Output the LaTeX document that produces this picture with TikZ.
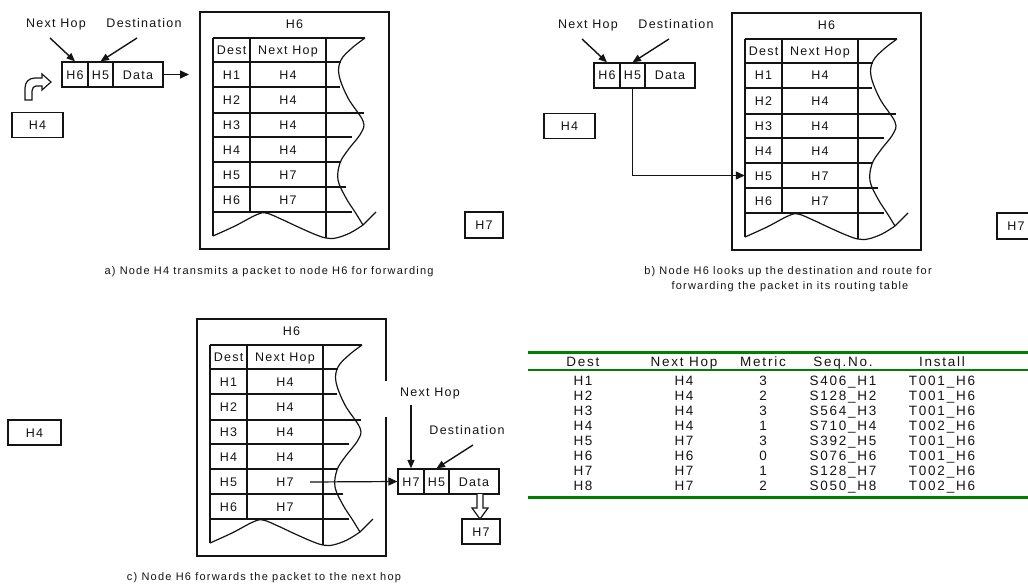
\documentclass[tikz,border=0pt]{standalone}
\usepackage{fontspec}
\setmainfont{Liberation Sans}
\newfontfamily\wfont[LetterSpace=10]{Liberation Sans}
\newfontfamily\capfont[LetterSpace=11]{Liberation Sans}
\newfontfamily\tabfont[LetterSpace=13]{Liberation Sans}
\usetikzlibrary{arrows.meta}
\definecolor{tgreen}{RGB}{0,128,0}
\definecolor{ink}{RGB}{20,20,20}
\tikzset{
  ln/.style={draw=ink, line width=1.2pt},
  txt/.style={font={\wfont\fontsize{12.5}{14}\selectfont}, text=ink, inner sep=0pt, text height=9pt, text depth=0pt},
  cell/.style={txt, minimum height=25pt},
  boxed/.style={txt, draw=ink, line width=1.2pt, minimum height=25pt},
  captxt/.style={font={\capfont\fontsize{11}{13}\selectfont}, text=ink, inner sep=0pt, text height=7.9pt, text depth=0pt},
  tabtxt/.style={font={\tabfont\fontsize{13.5}{15}\selectfont}, text=ink, inner sep=0pt, text height=9.7pt, text depth=0pt},
  ptr/.style={draw=ink, line width=1.4pt, -{Triangle[length=8.5pt,width=7pt]}},
  conn/.style={draw=ink, line width=1.2pt, -{Triangle[length=9pt,width=8pt]}},
  hollow/.style={draw=ink, line width=1.2pt, fill=white},
  gline/.style={draw=tgreen},
}
\newcommand{\rtable}[1]{%
  \node[txt] (#1ttl) at (294.5,24) {H6};
  \draw[ln] (213,38) -- (213,236);
  \draw[ln] (250,38) -- (250,212);
  \draw[ln] (326,38) -- (326,238);
  \foreach \yy/\xx in {38/365,62/341,87/340,113/364,137/352,162/341,187/346,212/352} {\draw[ln] (213,\yy) -- (\xx,\yy);}
  \node[cell, minimum width=37pt] (#1hd) at (231.5,50) {Dest};
  \node[cell, minimum width=76pt] (#1hn) at (288,50) {Next Hop};
  \foreach \d/\n [count=\i] in {H1/H4,H2/H4,H3/H4,H4/H4,H5/H7,H6/H7} {
    \node[cell, minimum width=37pt] (#1d\i) at (231.5,{49.5+25*\i}) {\d};
    \node[cell, minimum width=76pt] (#1n\i) at (288,{49.5+25*\i}) {\n};
  }
  \draw[ln] plot[smooth, tension=0.6] coordinates {(365,38) (352,48) (341,60) (339,75) (348,98) (363,121) (361,133) (348,150) (340,163) (338,180) (346,198) (355,212) (363,225)};
  \draw[ln] plot[smooth, tension=0.6] coordinates {(213,236) (235,226) (256,215) (266,213) (281,219) (296,226) (314,234) (326,238) (336,238) (350,233) (363,225)};
  \draw[ln] (363,225) -- (376,212);
}
\newcommand{\pkt}[2]{%
  \node[boxed, minimum width=26pt] (#1p1) at (75,74.5) {#2};
  \node[boxed, minimum width=25pt] (#1p2) at (100.5,74.5) {H5};
  \node[boxed, minimum width=50pt] (#1p3) at (138,74.5) {Data};
}
\newcommand{\plabels}[1]{%
  \node[txt] (#1NH) at (56,23) {Next Hop};
  \node[txt] (#1DS) at (144,23) {Destination};
  \coordinate (#1NHs) at (50,38);
  \coordinate (#1DSs) at (137,38);
  \draw[ptr] (#1NHs) -- (#1p1.north);
  \draw[ptr] (#1DSs) -- (#1p2.north);
}
\begin{document}
\begin{tikzpicture}[x=1pt,y=-1pt]
\useasboundingbox[fill=white] (0,0) rectangle (1028,586);
% ---------- panel a
\begin{scope}
  \draw[ln] (200,12) rectangle (389,249);
  \rtable{a}
  \pkt{a}{H6}
  \plabels{a}
  \coordinate (aT) at (189,74.5);
  \draw[conn] (ap3.east) -- (aT);
  \path[hollow] (25,100) -- (25,88) .. controls (25,82) and (29,78) .. (35,78) -- (42,78) -- (42,74) -- (51,82) -- (42,90) -- (42,86) -- (36,86) .. controls (34,86) and (32,88) .. (32,91) -- (32,100) -- cycle;
  \node[boxed, minimum width=51pt] (aH4) at (37.5,125) {H4};
  \node[boxed, minimum width=38pt, minimum height=26pt] (aH7) at (484,225) {H7};
\end{scope}
\node[captxt] (acap) at (269,271) {a) Node H4 transmits a packet to node H6 for forwarding};
% ---------- panel b
\begin{scope}[shift={(532,1)}]
  \draw[ln] (200,12) rectangle (389,249);
  \rtable{b}
  \pkt{b}{H6}
  \plabels{b}
  \draw[conn] (bp2.south) |- (bd5.west);
  \node[boxed, minimum width=51pt] (bH4) at (37.5,125) {H4};
  \node[boxed, minimum width=38pt, minimum height=26pt] (bH7) at (484,225) {H7};
\end{scope}
\node[captxt] (bcap1) at (788,271) {b) Node H6 looks up the destination and route for};
\node[captxt] (bcap2) at (790,286) {forwarding the packet in its routing table};
% ---------- panel c
\begin{scope}[shift={(-3,307)}]
  \draw[ln] (389,74) -- (389,12) -- (200,12) -- (200,249) -- (389,249) -- (389,110);
  \rtable{c}
  \coordinate (cS) at (313,175);
\end{scope}
\begin{scope}[shift={(336,407)}]
  \pkt{c}{H7}
\end{scope}
\draw[conn] (cS) -- (cp1.west);
\node[txt] (cNH) at (430,392) {Next Hop};
\node[txt] (cDS) at (467,430) {Destination};
\coordinate (cNHs) at (411,405);
\coordinate (cDSs) at (473,445);
\draw[ptr] (cNHs) -- (cp1.north);
\draw[ptr] (cDSs) -- (cp2.north);
\node[boxed, minimum width=53pt] (cH4) at (34.5,432.5) {H4};
\node[boxed, minimum width=38pt] (cH7) at (481,531.5) {H7};
\path[hollow] (477,494) -- (477,508) -- (472,508) -- (480,519) -- (488,508) -- (483,508) -- (483,494);
\node[captxt] (ccap) at (264,577) {c) Node H6 forwards the packet to the next hop};
% ---------- table d
\draw[gline, line width=3pt] (528,352) -- (1028,352);
\draw[gline, line width=1.6pt] (528,370) -- (1028,370);
\draw[gline, line width=3pt] (528,497) -- (1028,497);
\node[tabtxt] (th1) at (583,361.5) {Dest};
\node[tabtxt] (th2) at (684,361.5) {Next Hop};
\node[tabtxt] (th3) at (763,361.5) {Metric};
\node[tabtxt] (th4) at (843,361.5) {Seq.No.};
\node[tabtxt] (th5) at (942,361.5) {Install};
\foreach \a/\b/\c/\d/\e [count=\i] in {H1/H4/3/S406\_H1/T001\_H6, H2/H4/2/S128\_H2/T001\_H6, H3/H4/3/S564\_H3/T001\_H6, H4/H4/1/S710\_H4/T002\_H6, H5/H7/3/S392\_H5/T001\_H6, H6/H6/0/S076\_H6/T001\_H6, H7/H7/1/S128\_H7/T002\_H6, H8/H7/2/S050\_H8/T002\_H6} {
  \node[tabtxt] (r\i a) at (583,{381+15*(\i-1)}) {\a};
  \node[tabtxt] (r\i b) at (684,{381+15*(\i-1)}) {\b};
  \node[tabtxt] (r\i c) at (763,{381+15*(\i-1)}) {\c};
  \node[tabtxt] (r\i d) at (843,{381+15*(\i-1)}) {\d};
  \node[tabtxt] (r\i e) at (942,{381+15*(\i-1)}) {\e};
}
\end{tikzpicture}
\end{document}
